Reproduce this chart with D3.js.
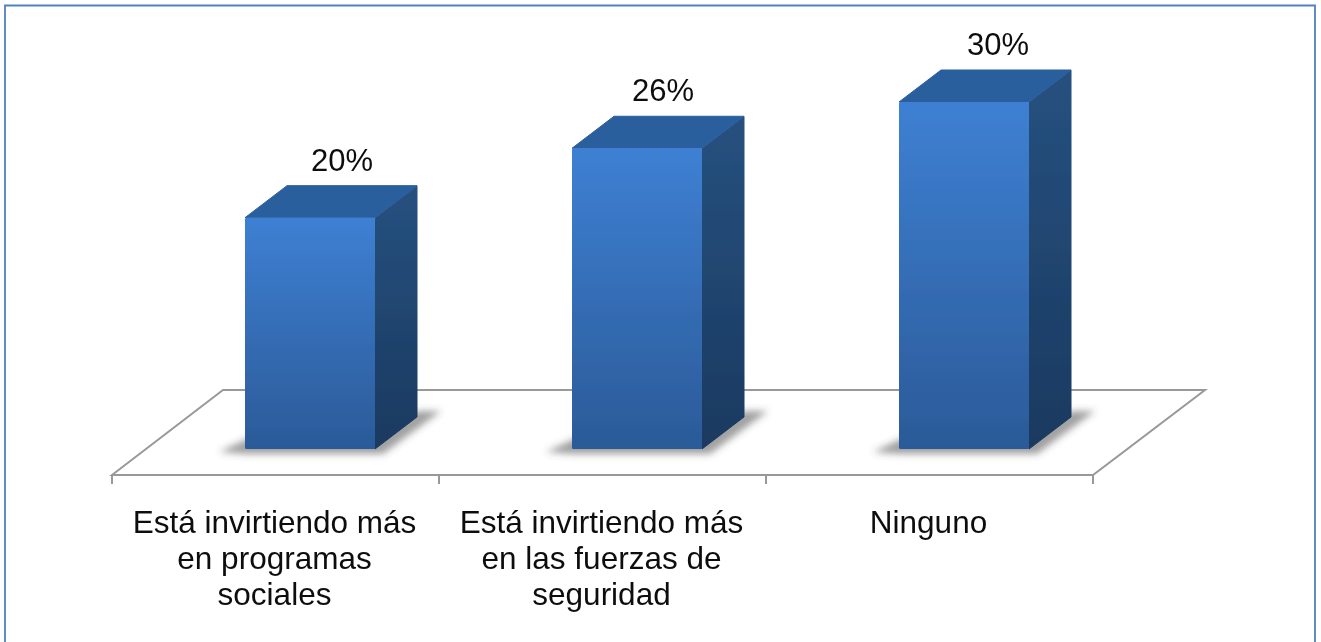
<!DOCTYPE html>
<html><head><meta charset="utf-8">
<script src="https://cdn.jsdelivr.net/npm/d3@7"></script>
<style>html,body{margin:0;padding:0;background:#fff;overflow:hidden}svg{display:block}text{font-family:"Liberation Sans",Arial,sans-serif;fill:#111}</style>
</head><body><svg id="c" width="1321" height="642"></svg>
<script>
const categories = ["Está invirtiendo más|en programas|sociales","Está invirtiendo más|en las fuerzas de|seguridad","Ninguno"];
const values = [20, 26, 30];
const labelNudge = [0, -6, 2];
const svg = d3.select("#c");
const W = 1321, H = 642;
const x = d3.scaleBand().domain(categories).range([112, 1093]).padding(0);
const y = d3.scaleLinear().domain([0, 30]).range([449, 102]);
const barW = 130, barOff = 133, dx = 42, dy = 32;
const floorY = 475, backY = 390, floorDx = 111;

const defs = svg.append("defs");
function grad(id, c1, c2){
  const g = defs.append("linearGradient").attr("id", id).attr("x1",0).attr("y1",0).attr("x2",0).attr("y2",1);
  g.append("stop").attr("offset",0).attr("stop-color",c1);
  g.append("stop").attr("offset",1).attr("stop-color",c2);
}
grad("front","#3e80d3","#2b5a98");
grad("side","#26517f","#1a3960");
defs.append("filter").attr("id","sh").attr("filterUnits","userSpaceOnUse").attr("x",-100).attr("y",300).attr("width",500).attr("height",250)
  .append("feGaussianBlur").attr("stdDeviation",3.5);
defs.append("filter").attr("id","soft").attr("filterUnits","userSpaceOnUse").attr("x",0).attr("y",0).attr("width",W).attr("height",H)
  .append("feGaussianBlur").attr("stdDeviation",0.5);

// panel border
svg.append("path").attr("d",`M5 ${H} V5.5 H1315 V${H}`).attr("fill","none").attr("stroke","#4f81bd").attr("stroke-width",1.8);

const root = svg.append("g").attr("filter","url(#soft)");

// floor
const [x0, x1] = x.range();
root.append("path")
  .attr("d",`M${x0} ${floorY} L${x0+floorDx} ${backY} H${x1+floorDx+1} L${x1} ${floorY} Z`)
  .attr("fill","#fff").attr("stroke","#999").attr("stroke-width",2);
// ticks
root.selectAll("line.tick").data([...categories.map(c=>x(c)), x1]).join("line")
  .attr("class","tick").attr("x1",d=>d).attr("x2",d=>d).attr("y1",floorY).attr("y2",484)
  .attr("stroke","#999").attr("stroke-width",2);

// bars
const bars = root.selectAll("g.bar").data(categories.map((c,i)=>({c,v:values[i],n:labelNudge[i]}))).join("g").attr("class","bar")
  .attr("transform",d=>`translate(${x(d.c)+barOff},0)`);
bars.append("path").attr("filter","url(#sh)").attr("fill","#444").attr("fill-opacity",0.5)
  .attr("d",`M-26 452 L4 438 H${barW} L${barW+dx} ${y(0)-dy-6} H${barW+dx+24} L${barW+8} 454 H0 Z`);
bars.append("path").attr("fill","url(#side)").attr("stroke","url(#side)").attr("stroke-width",1).attr("stroke-linejoin","round")
  .attr("d",d=>`M${barW} ${y(d.v)} L${barW+dx} ${y(d.v)-dy} V${y(0)-dy} L${barW} ${y(0)} Z`);
bars.append("path").attr("fill","#2b5f9e").attr("stroke","#2b5f9e").attr("stroke-width",1).attr("stroke-linejoin","round")
  .attr("d",d=>`M0 ${y(d.v)} L${dx} ${y(d.v)-dy} H${barW+dx} L${barW} ${y(d.v)} Z`);
bars.append("rect").attr("x",0).attr("width",barW).attr("y",d=>y(d.v)).attr("height",d=>y(0)-y(d.v)).attr("rx",1.5).attr("fill","url(#front)");
bars.append("text").attr("x",d=>(barW+dx)/2+11+d.n).attr("y",d=>y(d.v)-dy-15)
  .attr("text-anchor","middle").attr("font-size",31).text(d=>d.v+"%");

// category labels
root.selectAll("text.cat").data(categories).join("text").attr("class","cat")
  .attr("text-anchor","middle").attr("font-size",31.5)
  .attr("transform",c=>`translate(${x(c)+x.bandwidth()/2-1},533)`)
  .selectAll("tspan").data(c=>c.split("|")).join("tspan")
  .attr("x",0).attr("y",(d,i)=>i*36).text(d=>d);
</script></body></html>
